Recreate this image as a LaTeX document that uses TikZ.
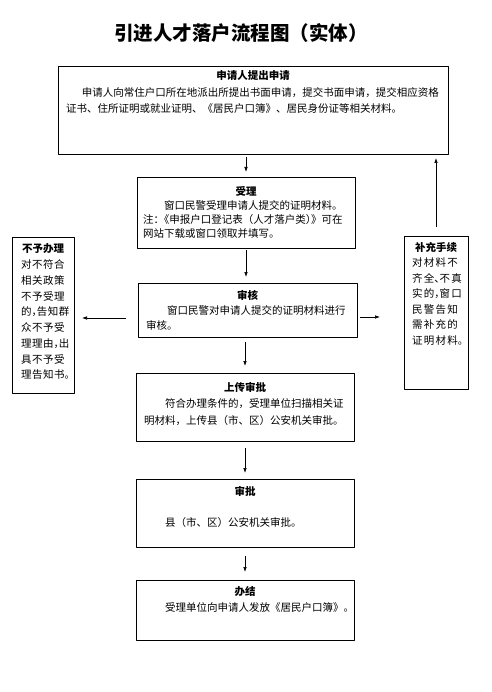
\documentclass[tikz,border=0pt]{standalone}
\usepackage{fontspec}
\setmainfont{Noto Sans CJK SC}
\usetikzlibrary{arrows.meta}
% half-width punctuation
\newcommand{\hw}[1]{\makebox[0.5em][l]{#1}}
% box content: [line spacing]{width}{height}{title}{body}
\newcommand{\boxtext}[5][16pt]{%
  \begin{minipage}[t][#3][t]{#2}%
  \fontsize{10.5}{#1}\selectfont
  {\centering\makebox[#2]{\textbf{#4}}\par}%
  \raggedright #5%
  \end{minipage}}

\begin{document}
\begin{tikzpicture}[x=1pt,y=-1pt,line join=round,>={Latex[length=5pt,width=3.6pt]}]
        \tikzset{box/.style={draw,line width=0.9pt,anchor=north west,inner xsep=8pt,inner ysep=7pt,outer sep=0pt}}
        \tikzset{arr/.style={->,line width=0.7pt}}
        \path[fill=white] (0,0) rectangle (491,692);
        \node[font=\fontsize{19.5}{19.5}\selectfont\bfseries] (title) at (241,33) {引进人才落户流程图（实体）};
        % main column
        \node[box,inner ysep=5pt] (shenqing) at (58,66) {\boxtext[16.5pt]{374pt}{78pt}{申请人提出申请}{%
            \hspace*{1.5em}申请人向常住户口所在地派出所提出书面申请，提交书面申请，提交相应资格\\
            证书、住所证明或就业证明、《居民户口簿》、居民身份证等相关材料。}};
        \node[box,inner xsep=6pt,inner ysep=9pt] (shouli) at (137,177) {\boxtext[14.3pt]{206pt}{53pt}{受理}{%
            \hspace*{2em}窗口民警受理申请人提交的证明材料。\\
            注\hw{：}《申报户口登记表（人才落户类\hw{）}》可在\\
            网站下载或窗口领取并填写。}};
        \node[box] (shenhe) at (138,283) {\boxtext[15pt]{203pt}{40pt}{审核}{%
            \hspace*{2em}窗口民警对申请人提交的证明材料进行\\
            审核。}};
        \node[box,inner ysep=9pt] (shangchuan) at (136,373) {\boxtext[16.5pt]{202pt}{50pt}{上传审批}{%
            \hspace*{2em}符合办理条件的，受理单位扫描相关证\\
            明材料，上传县（市、区）公安机关审批。}};
        \node[box] (shenpi) at (136,479) {\boxtext[15.5pt]{202pt}{54pt}{审批}{%
            \mbox{}\\
            \hspace*{2em}县（市、区）公安机关审批。}};
        \node[box,inner ysep=6pt] (banjie) at (136,580) {\boxtext{202pt}{48pt}{办结}{%
            \hspace*{2em}受理单位向申请人发放《居民户口簿》。}};
        % side boxes
        \node[box,inner xsep=9pt] (buyu) at (12,237) {\boxtext[15.75pt]{44pt}{142pt}{不予办理}{%
            \addfontfeatures{LetterSpace=5}%
            对不符合\\相关政策\\不予受理\\的\hw{，}告知群\\众不予受\\理理由\hw{，}出\\具不予受\\理告知书\hw{。}}};
        \node[box,inner xsep=8pt,inner ysep=6pt] (buchong) at (404,236) {\boxtext[15.5pt]{48pt}{141pt}{补充手续}{%
            \addfontfeatures{LetterSpace=12}%
            对材料不\\齐全\hw{、}不真\\实的\hw{，}窗口\\民警告知\\需补充的\\证明材料\hw{。}}};
        % arrows
        \draw[arr,shorten <=3pt,shorten >=5pt] (shenqing.south -| shouli) -- (shouli.north);
        \draw[arr,shorten <=2pt,shorten >=6pt] (shouli.south) -- (shouli.south |- shenhe.north);
        \draw[arr,shorten <=5pt,shorten >=7pt] (shenhe.south -| shangchuan) -- (shangchuan.north);
        \draw[arr,shorten <=7pt,shorten >=6pt] (shangchuan.south) -- (shenpi.north);
        \draw[arr,shorten <=9pt,shorten >=8pt] (shenpi.south) -- (banjie.north);
        \draw[arr,shorten <=12pt,shorten >=8pt] ([yshift=-8pt]shenhe.west) -- ([yshift=-8pt]shenhe.west -| buyu.east);
        \draw[arr,shorten <=3pt,shorten >=24pt] ([yshift=-7pt]shenhe.east) -- ([yshift=-7pt]shenhe.east -| buchong.west);
        \draw[arr,shorten <=9pt,shorten >=4pt] (buchong.north) -- (buchong.north |- shenqing.south);
\end{tikzpicture}
\end{document}
